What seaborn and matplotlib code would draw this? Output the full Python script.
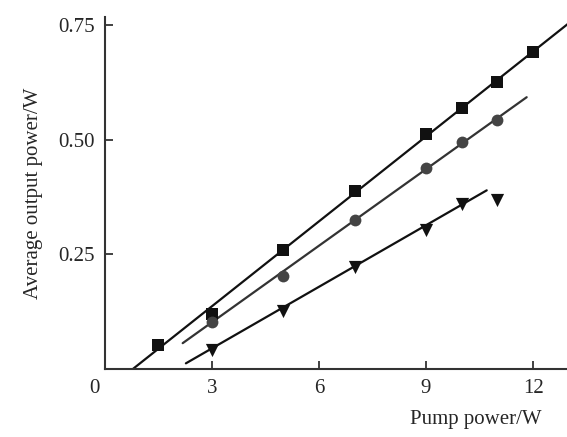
#!/usr/bin/env python3
"""
Average output power vs pump power, three laser configurations with linear fits.
"""

import numpy as np
import pandas as pd
import matplotlib
matplotlib.use("Agg")
import matplotlib.pyplot as plt
import seaborn as sns

# measured points
square_x = [1.5, 3, 5, 7, 9, 10, 11, 12]
square_y = [0.053, 0.119, 0.259, 0.389, 0.513, 0.569, 0.627, 0.691]

circle_x = [3, 5, 7, 9, 10, 11]
circle_y = [0.103, 0.203, 0.326, 0.438, 0.495, 0.543]

tri_x = [3, 5, 7, 9, 10, 11]
tri_y = [0.041, 0.126, 0.222, 0.303, 0.359, 0.368]

# linear fits: slope, intercept, drawn x range
fit_slope = [0.0618, 0.0557, 0.0448]
fit_intercept = [-0.0488, -0.0654, -0.0897]
fit_start = [0.79, 2.18, 2.27]
fit_end = [13.0, 11.82, 10.7]

x_ticks = [3, 6, 9, 12]
y_ticks = [0.25, 0.50, 0.75]
y_tick_labels = ["0.25", "0.50", "0.75"]


def main():
    sns.set_style("ticks")
    plt.rcParams["font.family"] = ["Liberation Serif", "DejaVu Serif"]

    fig = plt.figure(figsize=(5.67, 4.37), dpi=100)
    ax = fig.add_axes([0.185, 0.156, 0.815, 0.805])

    series = [
        (square_x, square_y, "s", "#111111", 9.0),
        (circle_x, circle_y, "o", "#444444", 8.5),
        (tri_x, tri_y, "v", "#111111", 9.5),
    ]
    line_colors = ["#111111", "#333333", "#111111"]

    # fit lines
    for i in range(3):
        xs = np.array([fit_start[i], fit_end[i]])
        fit = pd.DataFrame({"x": xs, "y": fit_slope[i] * xs + fit_intercept[i]})
        sns.lineplot(data=fit, x="x", y="y", ax=ax, color=line_colors[i],
                     linewidth=1.6, zorder=2)

    # data markers
    for xs, ys, marker, color, size in series:
        df = pd.DataFrame({"x": xs, "y": ys})
        sns.scatterplot(data=df, x="x", y="y", ax=ax, marker=marker,
                        color=color, s=size ** 2, edgecolor=color,
                        linewidth=0, zorder=3)

    ax.set_xlim(0, 12.95)
    ax.set_ylim(0, 0.768)
    ax.set_xticks(x_ticks)
    ax.set_yticks(y_ticks)
    ax.set_yticklabels(y_tick_labels)
    ax.tick_params(direction="in", length=6, width=1.3, labelsize=15,
                   pad=7, color="#333333")

    for side in ["top", "right"]:
        ax.spines[side].set_visible(False)
    for side in ["left", "bottom"]:
        ax.spines[side].set_linewidth(1.5)
        ax.spines[side].set_color("#333333")

    ax.text(-0.28, -0.042, "0", fontsize=15, ha="center", va="center")

    ax.set_xlabel("Pump power/W", fontsize=15)
    ax.xaxis.set_label_coords(0.802, -0.116)
    ax.set_ylabel("Average output power/W", fontsize=15)
    ax.yaxis.set_label_coords(-0.134, 0.5)

    fig.savefig("out.png", dpi=100)


if __name__ == "__main__":
    main()
